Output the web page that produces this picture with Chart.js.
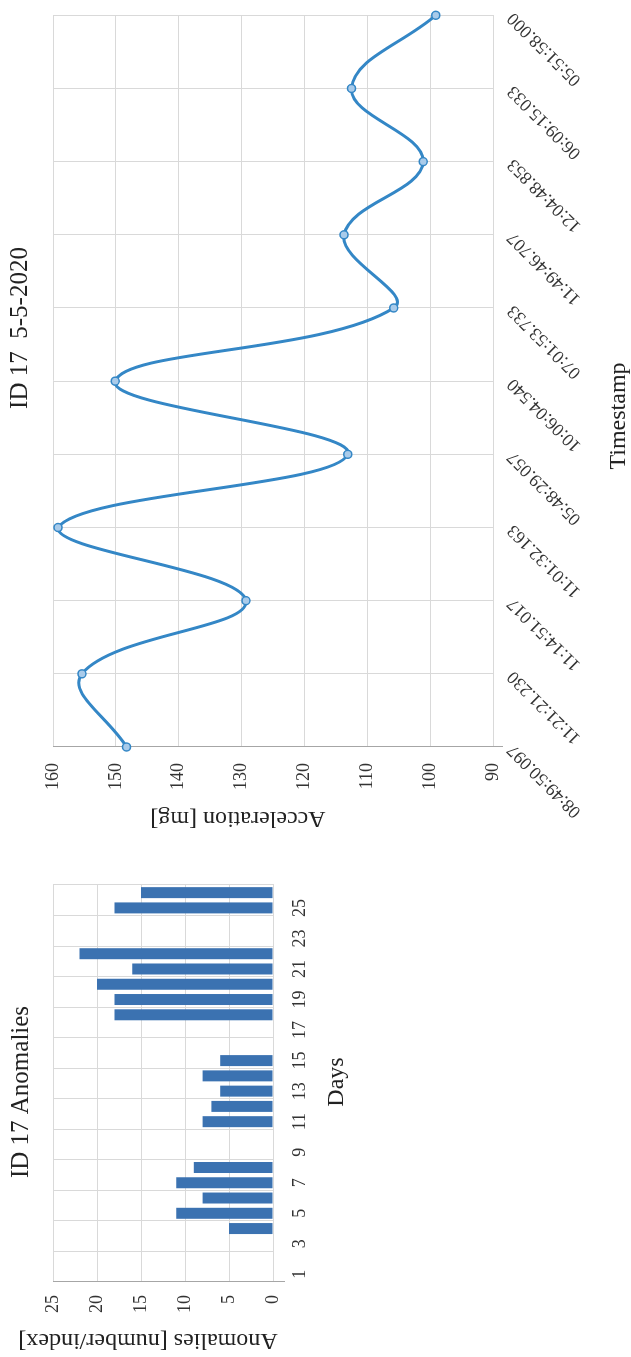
<!DOCTYPE html>
<html>
<head>
<meta charset="utf-8">
<title>ID 17</title>
<script src="https://cdn.jsdelivr.net/npm/chart.js@4/dist/chart.umd.min.js"></script>
<style>
  html, body { margin: 0; padding: 0; background: #fff; overflow: hidden; }
  body { width: 631px; height: 1357px; position: relative; }
  .turned { position: absolute; left: 0; top: 0; transform-origin: 0 0; }
  #line-box { width: 850px; height: 631px; transform: translate(0, 850px) rotate(-90deg); }
  #bar-box { width: 497px; height: 380px; transform: translate(0, 1357px) rotate(-90deg); }
</style>
</head>
<body>
<div id="line-box" class="turned"><canvas id="line-chart" width="850" height="631"></canvas></div>
<div id="bar-box" class="turned"><canvas id="bar-chart" width="497" height="380"></canvas></div>
<script>
"use strict";

// line chart: ID 17 5-5-2020
const TIMESTAMPS = [
  "08:49:50.097", "11:21:21.230", "11:14:51.017", "11:01:32.163",
  "05:48:29.057", "10:06:04.540", "07:01:53.733", "11:49:46.707",
  "12:04:48.853", "06:09:15.033", "05:51:58.000",
];
const ACCELERATION = [148.3, 155.4, 129.3, 159.2, 113.1, 150.1, 105.8, 113.7, 101.1, 112.5, 99.1];
const ACCEL_TICKS = [90, 100, 110, 120, 130, 140, 150, 160];

// bar chart: ID 17 Anomalies
const DAYS = ["1", "2", "3", "4", "5", "6", "7", "8", "9", "10", "11", "12", "13",
  "14", "15", "16", "17", "18", "19", "20", "21", "22", "23", "24", "25", "26"];
const ANOMALIES = [null, null, null, 5, 11, 8, 11, 9, null, null, 8, 7, 6, 8, 6,
  null, null, 18, 18, 20, 16, 22, null, null, 18, 15];
const ANOMALY_TICKS = [0, 5, 10, 15, 20, 25];

const SERIF = "'Liberation Serif', 'Times New Roman', serif";
const GRID = "#d9d9d9";
const AXIS = "#a6a6a6";
const TEXT = "#333333";
const CLEAR = "rgba(0,0,0,0)";

// draws the chart and axis titles where the original figure has them
function titlesPlugin(items) {
  return {
    id: "titles",
    afterDraw(chart) {
      const ctx = chart.ctx;
      items.forEach((it) => {
        ctx.save();
        ctx.translate(it.x, it.y);
        ctx.rotate(it.rot || 0);
        ctx.font = it.size + "px " + SERIF;
        ctx.fillStyle = "#222";
        ctx.textAlign = "center";
        ctx.textBaseline = "middle";
        ctx.fillText(it.text, 0, 0);
        ctx.restore();
      });
    },
  };
}

function renderLine() {
  const canvas = document.getElementById("line-chart");
  new Chart(canvas, {
    type: "line",
    data: {
      labels: TIMESTAMPS,
      datasets: [{
        data: ACCELERATION,
        borderColor: "#3487c6",
        borderWidth: 3,
        tension: 0.4,
        pointRadius: 4,
        pointBorderWidth: 1.5,
        pointBackgroundColor: "#a9cbea",
        pointBorderColor: "#3487c6",
      }],
    },
    options: {
      responsive: false,
      animation: false,
      layout: { padding: { top: 53, right: 14, left: 0, bottom: 0 } },
      plugins: { legend: { display: false }, tooltip: { enabled: false } },
      scales: {
        x: {
          offset: false,
          grid: {
            color: GRID,
            drawTicks: true,
            tickLength: 10,
            tickColor: (c) => (c.index === 0 ? AXIS : CLEAR),
          },
          border: { color: GRID },
          ticks: {
            autoSkip: false, minRotation: 45, maxRotation: 45,
            padding: 0, color: TEXT, font: { family: SERIF, size: 18 },
          },
          afterFit: (s) => { s.height = 138; },
        },
        y: {
          min: 90,
          max: 160,
          afterBuildTicks: (s) => { s.ticks = ACCEL_TICKS.map((v) => ({ value: v })); },
          grid: { color: GRID, drawTicks: false },
          border: { color: AXIS },
          ticks: { padding: 16, color: TEXT, font: { family: SERIF, size: 18 } },
          afterFit: (s) => { s.width = 103; },
        },
      },
    },
    plugins: [titlesPlugin([
      { text: "ID 17  5-5-2020", x: 522, y: 20, size: 25 },
      { text: "Timestamp", x: 434, y: 619, size: 24 },
      { text: "Acceleration [mg]", x: 32, y: 238, size: 24, rot: -Math.PI / 2 },
    ])],
  });
}

function renderBars() {
  const canvas = document.getElementById("bar-chart");
  new Chart(canvas, {
    type: "bar",
    data: {
      labels: DAYS,
      datasets: [{
        data: ANOMALIES,
        backgroundColor: "#3b72b1",
        barPercentage: 0.72,
        categoryPercentage: 1.0,
      }],
    },
    options: {
      responsive: false,
      animation: false,
      layout: { padding: { top: 53, right: 25, left: 0, bottom: 0 } },
      plugins: { legend: { display: false }, tooltip: { enabled: false } },
      scales: {
        x: {
          grid: {
            color: (c) => (c.index === undefined || c.index % 2 === 0 ? GRID : CLEAR),
            drawTicks: true,
            tickLength: 12,
            tickColor: (c) => (c.index === 0 ? AXIS : CLEAR),
          },
          border: { color: GRID },
          ticks: {
            autoSkip: false, maxRotation: 0, padding: 4, color: TEXT,
            font: { family: SERIF, size: 18 },
            callback: (v, i) => (i % 2 === 0 ? DAYS[i] : ""),
          },
          afterFit: (s) => { s.height = 107; },
        },
        y: {
          min: 0,
          max: 25,
          afterBuildTicks: (s) => { s.ticks = ANOMALY_TICKS.map((v) => ({ value: v })); },
          grid: { color: GRID, drawTicks: false },
          border: { color: AXIS },
          ticks: { padding: 13, color: TEXT, font: { family: SERIF, size: 18 } },
          afterFit: (s) => { s.width = 75; },
        },
      },
    },
    plugins: [titlesPlugin([
      { text: "ID 17 Anomalies", x: 265, y: 21, size: 25 },
      { text: "Days", x: 275, y: 337, size: 24 },
      { text: "Anomalies [number/index]", x: 17, y: 148, size: 24, rot: -Math.PI / 2 },
    ])],
  });
}

document.addEventListener("DOMContentLoaded", () => {
  renderLine();
  renderBars();
});
</script>
</body>
</html>
